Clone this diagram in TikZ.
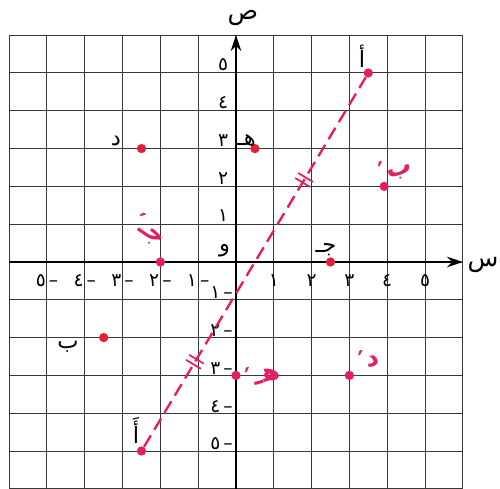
\documentclass[tikz,border=0pt]{standalone}
\usepackage{fontspec}
\newfontfamily\arabicfont[Script=Arabic]{DejaVu Sans}
\TeXXeTstate=1
\usetikzlibrary{calc,arrows.meta}
\definecolor{ptred}{RGB}{226,32,58}
\definecolor{hpink}{RGB}{228,30,100}
\newcommand{\primeleft}{\llap{′\kern0.5pt}}
\begin{document}
\begin{tikzpicture}[
  gridline/.style={draw=black!78, line width=0.75pt},
  axisline/.style={draw=black, line width=1.5pt},
  dot/.style={circle, fill=#1, draw=none, inner sep=0pt, minimum size=7pt},
  lbl/.style={font=\arabicfont\fontsize{17}{19}\selectfont, inner sep=0pt},
  ticklbl/.style={font=\arabicfont\fontsize{14}{16}\selectfont, inner sep=0pt},
  hand/.style={font=\arabicfont\bfseries\fontsize{19}{21}\selectfont, text=hpink, inner sep=0pt},
  axlbl/.style={font=\arabicfont\fontsize{19}{21}\selectfont, inner sep=0pt},
  seg/.style={draw=hpink, line width=1.8pt, dash pattern=on 10pt off 5pt},
  hashline/.style={draw=hpink, line width=1.3pt}
]
\useasboundingbox (-6.243,-6.005) rectangle (6.984,6.931);
% grid
\draw[gridline] (-6,-6) grid (6,6);
% axes
\coordinate (xl) at (-6,0);
\coordinate (xr) at (6,0);
\coordinate (yb) at (0,-6);
\coordinate (yt) at (0,6);
\draw[axisline, -{Stealth[length=12pt,width=8pt]}] (xl) -- (xr);
\draw[axisline, -{Stealth[length=12pt,width=8pt]}] (yb) -- (yt);
\node[axlbl] (sin) at (6.534,-0.079) {س};
\node[axlbl] (sad) at (0.185,6.455) {ص};
% tick labels
\foreach \k/\d in {1/١,2/٢,3/٣,4/٤,5/٥}{
  \node[ticklbl, anchor=base] at (\k,-0.64) {\d};
  \node[ticklbl, anchor=base] at (-\k,-0.64) {\d\,–};
  \node[ticklbl, anchor=base east] at (-0.2,\k+0.06) {\d};
  \node[ticklbl, anchor=base east] at (-0.08,-\k+0.03) {\d\,–};
}
\node[lbl] (O) at (-0.3,0.29) {و};
% dashed segment
\node[dot=hpink] (A) at (3.5,5) {};
\node[dot=hpink] (Ap) at (-2.5,-5) {};
\draw[seg] (Ap) -- (A);
% equal-length marks
\foreach \t [count=\i] in {0.236,0.717}{
  \coordinate (m\i) at ($(Ap)!\t!(A)$);
  \foreach \s in {-2.2pt,2.2pt}{
    \coordinate (c) at ($(m\i)!\s!(A)$);
    \draw[hashline] ($(c)!6.5pt!90:(A)$) -- ($(c)!6.5pt!-90:(A)$);
  }
}
% printed points
\node[dot=ptred] (D) at (-2.5,3) {};
\node[dot=ptred] (H) at (0.5,3) {};
\node[dot=ptred] (B) at (-3.5,-2) {};
\node[dot=ptred] (J) at (2.5,0) {};
% image points
\node[dot=hpink] (Jp) at (-2,0) {};
\node[dot=hpink] (Bp) at (3.92,2) {};
\node[dot=hpink] (Dp) at (3,-3) {};
\node[dot=hpink] (Hp) at (0,-3) {};
% printed labels
\node[lbl] (Al) at (3.333,5.45) {أ};
\node[lbl] (Apl) at (-2.646,-4.45) {أَ};
\node[lbl] (Dl) at (-3.175,3.201) {د};
\node[lbl] (Hl) at (0.28,3.228) {\beginR هـ\endR};
\node[lbl] (Bl) at (-4.444,-2.249) {ب};
\node[lbl] (Jl) at (2.38,0.33) {\beginR جـ\endR};
% handwritten labels
\node[hand, rotate=-35] (Jpl) at (-2.2,0.78) {\primeleft\beginR جـ\endR};
\node[hand, rotate=15] (Bpl) at (4.32,2.47) {\primeleft\beginR ب\endR};
\node[hand, rotate=10] (Dpl) at (3.62,-2.54) {\primeleft\beginR د\endR};
\node[hand, rotate=15] (Hpl) at (0.8,-2.94) {\primeleft\beginR هـ\endR};
\end{tikzpicture}
\end{document}
